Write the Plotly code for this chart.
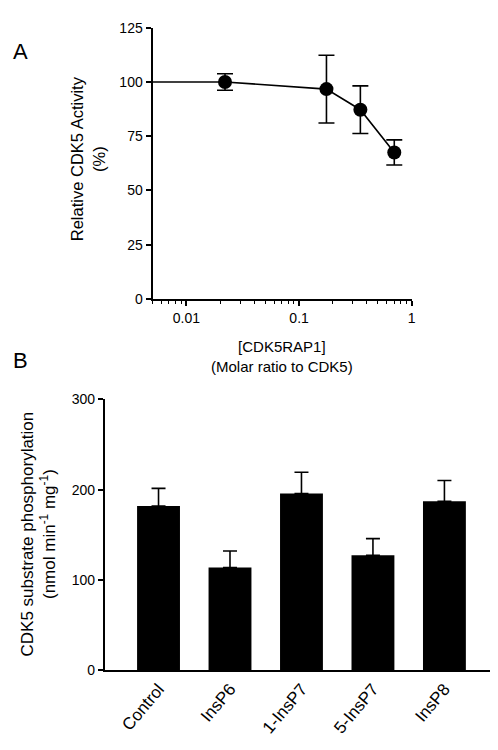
import plotly.graph_objects as go
import math

# Panel A data
ratio = [0.022, 0.175, 0.35, 0.70]
activity = [100, 96.7, 87.2, 67.5]
activity_err = [3.8, 15.6, 11.0, 5.8]
x_min = 0.005  # axis start (baseline, ratio 0)

# Panel B data
treatments = ["Control", "InsP6", "1-InsP7", "5-InsP7", "InsP8"]
phospho = [182, 113.8, 195.8, 127.5, 187.1]
phospho_err = [19.5, 18.4, 23.5, 18.4, 23.1]

FONT = "Liberation Sans, Arial, sans-serif"
W, H = 498, 750
TICK = 14


def fx(x):  # page pixel -> paper x
    return min(1.0, max(0.0, x / W))


def fy(y):  # page pixel -> paper y
    return min(1.0, max(0.0, 1 - y / H))


fig = go.Figure()

fig.add_trace(go.Scatter(x=[x_min, ratio[0]], y=[activity[0], activity[0]], mode="lines",
                         line=dict(color="black", width=1.6), xaxis="x", yaxis="y",
                         showlegend=False, hoverinfo="skip"))
fig.add_trace(go.Scatter(x=ratio, y=activity, mode="lines+markers",
                         line=dict(color="black", width=1.6),
                         marker=dict(color="black", size=14),
                         error_y=dict(type="data", array=activity_err, color="black",
                                      thickness=1.6, width=8),
                         xaxis="x", yaxis="y", showlegend=False))

fig.add_trace(go.Bar(x=treatments, y=phospho, marker=dict(color="black", line=dict(width=0)),
                     width=0.6,
                     error_y=dict(type="data", symmetric=False, array=phospho_err,
                                  arrayminus=[0]*len(phospho_err), color="black",
                                  thickness=1.6, width=7),
                     xaxis="x2", yaxis="y2", showlegend=False))

axis_common = dict(showline=True, linecolor="black", linewidth=2, showgrid=False,
                   zeroline=False, ticks="outside", tickcolor="black", tickwidth=1.6,
                   tickfont=dict(family=FONT, size=TICK, color="black"))

fig.update_layout(
    width=W, height=H, margin=dict(l=0, r=0, t=0, b=0),
    paper_bgcolor="white", plot_bgcolor="white",
    font=dict(family=FONT, size=TICK, color="black"),
    xaxis=dict(**axis_common, type="log", domain=[fx(145.7), fx(407)], anchor="y",
               range=[math.log10(x_min), 0], tickvals=[0.01, 0.1, 1],
               ticktext=["0.01", "0.1", "1"], ticklen=5,
               minor=dict(ticks="outside", ticklen=3, tickcolor="black", tickwidth=1.2,
                          dtick="D1", showgrid=False)),
    yaxis=dict(**axis_common, domain=[fy(289), fy(12)], anchor="x",
               range=[0, 125], tickvals=[0, 25, 50, 75, 100, 125], ticklen=5),
    xaxis2=dict(showline=True, linecolor="black", linewidth=2, showgrid=False,
                zeroline=False, ticks="", tickangle=-50,
                tickfont=dict(family=FONT, size=17, color="black"),
                domain=[fx(97.7), fx(494)], anchor="y2", range=[-0.75, 4.75]),
    yaxis2=dict(**axis_common, domain=[fy(668.7), fy(391.7)], anchor="x2",
                range=[0, 300], tickvals=[0, 100, 200, 300], ticklen=5),
)

ann = [
    ("A", 13, 36, 0, 22),
    ("B", 13, 352, 0, 22),
    ("Relative CDK5 Activity<br>(%)", 81, 146, -90, 16.5),
    ("[CDK5RAP1]<br>(Molar ratio to CDK5)", 276, 348, 0, 15),
    ("CDK5 substrate phosphorylation<br>(nmol min<sup>-1</sup> mg<sup>-1</sup>)", 31, 529, -90, 17),
]
for text, px, py, ang, size in ann:
    fig.add_annotation(xref="paper", yref="paper", showarrow=False,
                       xanchor="center", yanchor="middle", textangle=ang,
                       x=fx(px), y=fy(py), text=text,
                       font=dict(family=FONT, size=size, color="black"))

fig.write_html("out.html")
